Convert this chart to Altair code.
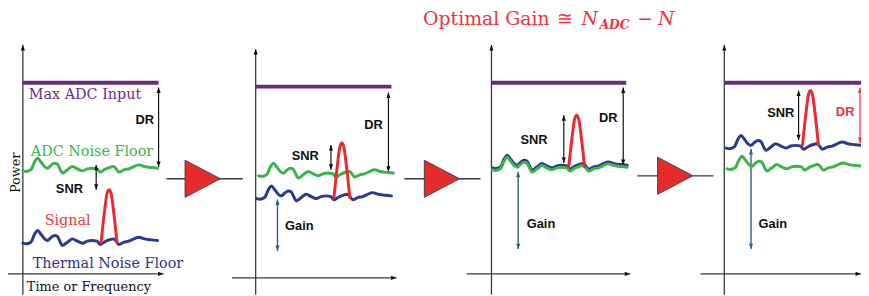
import altair as alt
import pandas as pd

# ---------------- diagram data (reference pixel units, y downward) -------------
panel_axis_x = [23, 258, 496, 731]
panel_axis_top = [44, 48, 44, 44]
panel_xaxis_y = [275, 279, 275, 275]
panel_xaxis_left = [3, 234, 471, 707]
panel_xaxis_right = [165, 400, 636, 869]
max_adc_y = [82, 86, 82, 82]
max_adc_right = [160, 395, 632, 869]

green_level = [170, 175, 169, 168]
green_start = [23, 261, 497, 734]
blue_level = [243, 198, 167, 147]
blue_start = [23, 259, 497, 733]

# one noise wiggle (dx along time, dy in power, downward +)
wave_dx = [0, 3, 8, 12, 15, 18, 22, 25, 28, 32, 35, 37, 40, 45, 50, 55, 60, 65,
           70, 75, 78, 82, 87, 92, 97, 102, 107, 112, 117, 123, 130, 136]
wave_dy = [1, 1.7, 0, -8.3, -11.7, -8.3, -3.3, -1.7, -4.3, -6.7, -5.7, -1.7, 3.3,
           0, -3.3, -1, 1, -1, -1.7, -1, 2.3, 0, -2.3, -3.3, 2.3, 0, -1, -3.3,
           -5, -3.3, -2.3, -1.7]

signal_center = [110, 345, 582, 818]
signal_top = [190, 143, 115, 90]
signal_base = [243, 198, 167, 145]
peak_dx = [-8, -4.5, -2, 0, 2, 4.5, 8]
peak_frac = [0, 0.6, 0.93, 1, 0.93, 0.6, 0]

dr_x = [160, 392, 629, 868]
dr_top = [87, 92, 87, 87]
dr_bottom = [167, 172, 165, 143]
dr_color = ["#111111", "#111111", "#111111", "#ee3338"]
dr_label_x = [146, 377, 614, 853]
dr_label_y = [120, 125, 118, 112]

snr_x = [97, 334, 569, 806]
snr_top = [165, 145, 115, 90]
snr_bottom = [190, 170, 163, 140]
snr_label_x = [70, 308, 539, 788]
snr_label_y = [189, 156, 140, 113]

gain_x = [280, 523, 758]
gain_top = [200, 172, 149]
gain_bottom = [252, 250, 250]
gain_label_x = [302, 546, 780]
gain_label_y = [227, 225, 225]

amp_left = [187, 427, 663]
amp_tip = [222, 465, 700]
amp_y = [179, 179, 176]
amp_wire_left = [168, 408, 643]
amp_wire_right = [245, 485, 720]

label_text = ["Max ADC Input", "ADC Noise Floor", "Signal", "Thermal Noise Floor",
              "Time or Frequency"]
label_x = [29, 31, 45, 33, 27]
label_y = [94, 152, 222, 265, 288]
label_size = [14.5, 14.5, 14.5, 14.5, 13]
label_color = ["#6a2c8a", "#3bb54a", "#ef3b3b", "#2e3192", "#111111"]

PURPLE = "#662d7f"
GREEN = "#3bb44a"
BLUE = "#2b3990"
RED = "#ec2a2e"
AXIS = "#3a3a3a"
GAINC = "#2a5f8f"

# ---------------- build tables -------------
segs = []
for i in range(4):
    segs.append(dict(x=panel_axis_x[i], y=panel_axis_top[i], x2=panel_axis_x[i], y2=296, c=AXIS, w=1.3))
    segs.append(dict(x=panel_xaxis_left[i], y=panel_xaxis_y[i], x2=panel_xaxis_right[i],
                     y2=panel_xaxis_y[i], c=AXIS, w=1.3))
    segs.append(dict(x=panel_axis_x[i], y=max_adc_y[i], x2=max_adc_right[i], y2=max_adc_y[i], c=PURPLE, w=4))
    segs.append(dict(x=dr_x[i], y=dr_top[i], x2=dr_x[i], y2=dr_bottom[i], c=dr_color[i], w=1.2))
    segs.append(dict(x=snr_x[i], y=snr_top[i], x2=snr_x[i], y2=snr_bottom[i], c="#111111", w=1.2))
for i in range(3):
    segs.append(dict(x=gain_x[i], y=gain_top[i], x2=gain_x[i], y2=gain_bottom[i], c=GAINC, w=1.4))
    segs.append(dict(x=amp_wire_left[i], y=amp_y[i], x2=amp_wire_right[i], y2=amp_y[i], c=AXIS, w=1.3))
seg_df = pd.DataFrame(segs)

UP = "M0,0L-1,2.6L1,2.6Z"
DOWN = "M0,0L-1,-2.6L1,-2.6Z"
RIGHT = "M0,0L-2.6,-1L-2.6,1Z"
heads = []
for i in range(4):
    heads.append(dict(x=panel_axis_x[i], y=panel_axis_top[i], s=UP, c="#111111"))
    heads.append(dict(x=panel_xaxis_right[i], y=panel_xaxis_y[i], s=RIGHT, c="#111111"))
    heads.append(dict(x=dr_x[i], y=dr_top[i], s=UP, c=dr_color[i]))
    heads.append(dict(x=dr_x[i], y=dr_bottom[i], s=DOWN, c=dr_color[i]))
    heads.append(dict(x=snr_x[i], y=snr_top[i], s=UP, c="#111111"))
    heads.append(dict(x=snr_x[i], y=snr_bottom[i], s=DOWN, c="#111111"))
for i in range(3):
    heads.append(dict(x=gain_x[i], y=gain_top[i], s=UP, c=GAINC))
    heads.append(dict(x=gain_x[i], y=gain_bottom[i], s=DOWN, c=GAINC))
head_df = pd.DataFrame(heads)

amp_df = pd.DataFrame(dict(x=[(a + b) / 2 for a, b in zip(amp_left, amp_tip)], y=amp_y))

lines = []
for i in range(4):
    for k, (dx, dy) in enumerate(zip(wave_dx, wave_dy)):
        lines.append(dict(x=blue_start[i] + dx, y=blue_level[i] + dy, g=f"b{i}", o=k, c=BLUE))
    for k, (dx, dy) in enumerate(zip(wave_dx, wave_dy)):
        lines.append(dict(x=green_start[i] + dx, y=green_level[i] + dy, g=f"g{i}", o=k, c=GREEN))
    h = signal_base[i] - signal_top[i]
    for k, (dx, f) in enumerate(zip(peak_dx, peak_frac)):
        lines.append(dict(x=signal_center[i] + dx, y=signal_base[i] - f * h, g=f"s{i}", o=k, c=RED))
line_df = pd.DataFrame(lines)

xs = alt.Scale(domain=[8, 869], nice=False, zero=False)
ys = alt.Scale(domain=[8, 296], nice=False, zero=False, reverse=True)
X = lambda f="x": alt.X(f"{f}:Q", scale=xs, axis=None)
Y = lambda f="y": alt.Y(f"{f}:Q", scale=ys, axis=None)

rules = alt.Chart(seg_df).mark_rule(clip=False).encode(
    x=X(), y=Y(), x2="x2:Q", y2="y2:Q",
    color=alt.Color("c:N", scale=None), strokeWidth=alt.StrokeWidth("w:Q", scale=None))

wave_layers = []
for grp in ["b", "g", "s"]:
    sub = line_df[line_df["g"].str.startswith(grp)]
    wave_layers.append(alt.Chart(sub).mark_line(strokeWidth=3, interpolate="monotone",
                                                strokeCap="round", strokeJoin="round").encode(
        x=X(), y=Y(), detail="g:N", order="o:Q", color=alt.Color("c:N", scale=None)))

arrowheads = alt.Chart(head_df).mark_point(filled=True, size=18, opacity=1, strokeWidth=0).encode(
    x=X(), y=Y(), shape=alt.Shape("s:N", scale=None), color=alt.Color("c:N", scale=None))

amps = alt.Chart(amp_df).mark_point(shape="M-0.95,-1L0.95,0L-0.95,1Z", size=1400, filled=True,
                                    fill="#e52b2b", stroke="#444444", strokeWidth=1, opacity=1).encode(
    x=X(), y=Y())

lab_df = pd.DataFrame(dict(t=label_text, x=label_x, y=label_y, c=label_color, s=label_size))
labels = alt.Chart(lab_df).mark_text(font="DejaVu Serif", align="left",
                                     baseline="middle").encode(
    x=X(), y=Y(), text="t:N", color=alt.Color("c:N", scale=None),
    size=alt.Size("s:Q", scale=None))

power = alt.Chart(pd.DataFrame(dict(t=["Power"], x=[16], y=[173]))).mark_text(
    font="DejaVu Serif", fontSize=13, angle=270, align="center", baseline="middle",
    color="#111111").encode(x=X(), y=Y(), text="t:N")

sans_rows = ([dict(t="DR", x=dr_label_x[i], y=dr_label_y[i], c=dr_color[i]) for i in range(4)]
             + [dict(t="SNR", x=snr_label_x[i], y=snr_label_y[i], c="#111111") for i in range(4)]
             + [dict(t="Gain", x=gain_label_x[i], y=gain_label_y[i], c="#111111") for i in range(3)])
sans = alt.Chart(pd.DataFrame(sans_rows)).mark_text(
    font="Liberation Sans", fontSize=13, fontWeight="bold", align="center", baseline="middle").encode(
    x=X(), y=Y(), text="t:N", color=alt.Color("c:N", scale=None))

title_parts = ["Optimal Gain", "≅", "N", "ADC", "−", "N"]
title_x = [427, 570, 587, 605, 651, 664]
title_y = [24, 24, 24, 28, 24, 24]
TRED = "#ee3340"
t1 = alt.Chart(pd.DataFrame(dict(t=title_parts[:1], x=title_x[:1], y=title_y[:1]))).mark_text(
    font="DejaVu Serif", fontSize=19, align="left", baseline="alphabetic", color=TRED).encode(
    x=X(), y=Y(), text="t:N")
t2 = alt.Chart(pd.DataFrame(dict(t=[title_parts[1], title_parts[4]], x=[title_x[1], title_x[4]],
                                 y=[title_y[1], title_y[4]]))).mark_text(
    font="DejaVu Serif", fontSize=19, align="center", baseline="alphabetic", color=TRED).encode(
    x=X(), y=Y(), text="t:N")
t3 = alt.Chart(pd.DataFrame(dict(t=[title_parts[2], title_parts[5]], x=[title_x[2], title_x[5]],
                                 y=[title_y[2], title_y[5]]))).mark_text(
    font="DejaVu Serif", fontSize=19, fontStyle="italic", align="left", baseline="alphabetic",
    color=TRED).encode(x=X(), y=Y(), text="t:N")
t4 = alt.Chart(pd.DataFrame(dict(t=[title_parts[3]], x=[title_x[3]], y=[title_y[3]]))).mark_text(
    font="DejaVu Serif", fontSize=12.5, fontStyle="italic", fontWeight="bold", align="left",
    baseline="alphabetic", color=TRED).encode(x=X(), y=Y(), text="t:N")

chart = alt.layer(rules, *wave_layers, arrowheads, amps, labels, power, sans, t1, t2, t3, t4).properties(
    width=861, height=288, padding=0, autosize=alt.AutoSizeParams(type="none"),
    background="white").configure_view(stroke=None)

chart.save("out.html", embed_options={"renderer": "svg", "actions": False})
